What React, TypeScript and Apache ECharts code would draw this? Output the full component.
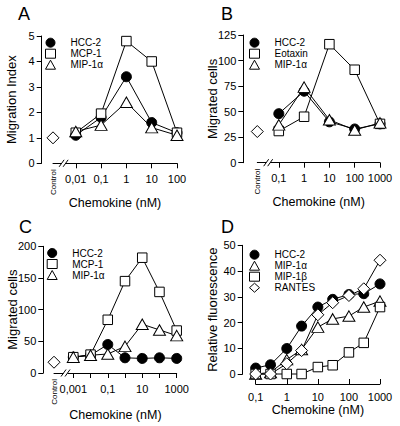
import React, { useEffect, useRef } from 'react';
import * as echarts from 'echarts';

const FONT = '"Liberation Sans", Arial, Helvetica, sans-serif';

// ---------- Panel A ----------
const A_CONC = [0.01, 0.1, 1, 10, 100];
const A_TICKS = [0.01, 0.1, 1, 10, 100];
const A_LABEL_CONC = [0.01, 0.1, 1, 10, 100];
const A_LABELS = ['0,01', '0,1', '1', '10', '100'];
const A_HCC2 = [1.1, 1.8, 3.4, 1.6, 1.2];
const A_MCP1 = [1.2, 1.95, 4.8, 4.0, 1.2];
const A_MIP1A = [1.25, 1.5, 2.4, 1.4, 1.1];
const A_CONTROL = 1.0;

// ---------- Panel B ----------
const B_CONC = [0.1, 1, 10, 100, 1000];
const B_TICKS = [0.1, 1, 10, 100, 1000];
const B_LABEL_CONC = [0.1, 1, 10, 100, 1000];
const B_LABELS = ['0,1', '1', '10', '100', '1000'];
const B_HCC2 = [48, 70, 40, 33, 38];
const B_EOTAXIN = [31, 45, 116, 91, 38];
const B_MIP1A = [37, 74, 42, 32, 39];
const B_CONTROL = 30.5;

// ---------- Panel C ----------
const C_CONC = [0.001, 0.01, 0.1, 1, 10, 100, 1000];
const C_TICKS = [0.001, 0.01, 0.1, 1, 10, 100, 1000];
const C_LABEL_CONC = [0.001, 0.1, 10, 1000];
const C_LABELS = ['0,001', '0,1', '10', '1000'];
const C_HCC2 = [25, 28, 45, 24, 23, 24, 23];
const C_MCP1 = [25, 29, 84, 145, 182, 128, 67];
const C_MIP1A = [25, 28, 30, 42, 77, 68, 59];
const C_CONTROL = 17;

// ---------- Panel D ----------
const D_CONC = [0.1, 0.3, 1, 3, 10, 30, 100, 300, 1000];
const D_TICKS = [0.1, 1, 10, 100, 1000];
const D_LABEL_CONC = [0.1, 1, 10, 100, 1000];
const D_LABELS = ['0,1', '1', '10', '100', '1000'];
const D_HCC2 = [2.3, 3.6, 9.9, 18.6, 26, 29, 30.9, 31.2, 35];
const D_MIP1A = [0, 0.6, 5.6, 9.5, 18.2, 21.4, 22.5, 26, 28.3];
const D_MIP1B = [0, 0, 0, 0, 2.7, 3.4, 8.4, 12.1, 26];
const D_RANTES = [0, 0, 4, 9.1, 23, 27.7, 30.5, 33.1, 44.2];

type Kind = 'circle' | 'square' | 'triangle' | 'diamond';
type SDef = { name: string; values: number[]; kind: Kind };

const KIND_STYLE: Record<Kind, any> = {
  circle: { symbol: 'circle', symbolSize: 10, fill: '#000' },
  square: { symbol: 'rect', symbolSize: 9.5, fill: '#fff' },
  triangle: { symbol: 'triangle', symbolSize: [12, 10.5], fill: '#fff' },
  diamond: { symbol: 'diamond', symbolSize: [12, 12], fill: '#fff' },
};

const PANELS = [
  {
    letter: 'A', letterPos: [18, 5],
    grid: { left: 53, right: 223, top: 36, bottom: 262.7 },
    conc: A_CONC, ticks: A_TICKS, labelConc: A_LABEL_CONC, labels: A_LABELS,
    xMin: -2.9, xMax: 2, controlX: -2.9 as number | null, control: A_CONTROL as number | null, breakAt: -2.48 as number | null,
    yName: 'Migration Index', yMax: 5, yInterval: 1, yOffset: 11.3,
    xAxisBottom: null as number | null, tickInside: false, xNameGap: 33, xLabelMargin: 10,
    legend: [45, 37.7],
    series: [
      { name: 'HCC-2', values: A_HCC2, kind: 'circle' },
      { name: 'MCP-1', values: A_MCP1, kind: 'square' },
      { name: 'MIP-1α', values: A_MIP1A, kind: 'triangle' },
    ] as SDef[],
  },
  {
    letter: 'B', letterPos: [221, 5],
    grid: { left: 257.3, right: 20, top: 35, bottom: 263.3 },
    conc: B_CONC, ticks: B_TICKS, labelConc: B_LABEL_CONC, labels: B_LABELS,
    xMin: -1.85, xMax: 3, controlX: -1.85, control: B_CONTROL, breakAt: -1.42,
    yName: 'Migrated cells', yMax: 125, yInterval: 25, yOffset: 14,
    xAxisBottom: null, tickInside: false, xNameGap: 33, xLabelMargin: 10,
    legend: [249, 37.7],
    series: [
      { name: 'HCC-2', values: B_HCC2, kind: 'circle' },
      { name: 'Eotaxin', values: B_EOTAXIN, kind: 'square' },
      { name: 'MIP-1α', values: B_MIP1A, kind: 'triangle' },
    ] as SDef[],
  },
  {
    letter: 'C', letterPos: [19, 218],
    grid: { left: 54, right: 223.3, top: 246.3, bottom: 53 },
    conc: C_CONC, ticks: C_TICKS, labelConc: C_LABEL_CONC, labels: C_LABELS,
    xMin: -4.12, xMax: 3, controlX: -4.12, control: C_CONTROL, breakAt: -3.45,
    yName: 'Migrated cells', yMax: 200, yInterval: 50, yOffset: 10.7,
    xAxisBottom: null, tickInside: false, xNameGap: 35, xLabelMargin: 10,
    legend: [46.7, 248],
    series: [
      { name: 'HCC-2', values: C_HCC2, kind: 'circle' },
      { name: 'MCP-1', values: C_MCP1, kind: 'square' },
      { name: 'MIP-1α', values: C_MIP1A, kind: 'triangle' },
    ] as SDef[],
  },
  {
    letter: 'D', letterPos: [221, 218],
    grid: { left: 255.7, right: 20, top: 245.3, bottom: 52 },
    conc: D_CONC, ticks: D_TICKS, labelConc: D_LABEL_CONC, labels: D_LABELS,
    xMin: -1, xMax: 3, controlX: null, control: null, breakAt: null,
    yName: 'Relative fluorescence', yMax: 50, yInterval: 10, yOffset: 13,
    xAxisBottom: 42, tickInside: true, xNameGap: 19, xLabelMargin: 7,
    legend: [249, 249.7],
    series: [
      { name: 'HCC-2', values: D_HCC2, kind: 'circle' },
      { name: 'MIP-1α', values: D_MIP1A, kind: 'triangle' },
      { name: 'MIP-1β', values: D_MIP1B, kind: 'square' },
      { name: 'RANTES', values: D_RANTES, kind: 'diamond' },
    ] as SDef[],
  },
];

function itemStyleOf(kind: Kind) {
  return { color: KIND_STYLE[kind].fill, borderColor: '#000', borderWidth: 1, opacity: 1 };
}

function buildOption() {
  const title: any[] = [];
  const grid: any[] = [];
  const xAxis: any[] = [];
  const yAxis: any[] = [];
  const legend: any[] = [];
  const series: any[] = [];
  const extraGrids: any[] = [];
  const extraY: any[] = [];

  PANELS.forEach((p, i) => {
    title.push({
      text: p.letter, left: p.letterPos[0], top: p.letterPos[1], padding: 0,
      textStyle: { fontSize: 18, fontWeight: 'normal', color: '#000', fontFamily: FONT },
    });
    grid.push({ ...p.grid });
    const labelVals = p.labelConc.map((c) => Math.log10(c));
    const visibleX = {
      type: 'value', min: p.xMin, max: p.xMax, position: 'bottom',
      name: 'Chemokine (nM)', nameLocation: 'middle', nameGap: p.xNameGap, nameMoveOverlap: false,
      nameTextStyle: { fontSize: 12.5, color: '#000', fontFamily: FONT },
      axisLine: { show: true, onZero: false, lineStyle: { color: '#000', width: 1 } },
      axisTick: {
        show: true, inside: p.tickInside, length: 5,
        customValues: p.ticks.map((c) => Math.log10(c)), lineStyle: { color: '#000', width: 1 },
      },
      axisLabel: {
        customValues: labelVals, margin: p.xLabelMargin, fontSize: 11, color: '#000', fontFamily: FONT,
        formatter: (v: number) => {
          const k = labelVals.findIndex((lv) => Math.abs(lv - v) < 1e-6);
          return k >= 0 ? p.labels[k] : '';
        },
      },
      splitLine: { show: false },
    };
    if (p.xAxisBottom == null) {
      xAxis[2 * i] = { ...visibleX, gridIndex: i };
      xAxis[2 * i + 1] = {
        gridIndex: i, type: 'value', min: p.xMin, max: p.xMax, position: 'bottom',
        axisLine: { show: false, onZero: false }, axisTick: { show: false }, splitLine: { show: false },
        axisLabel: {
          show: true, customValues: [p.controlX], showMinLabel: true,
          formatter: () => 'Control', rotate: 90, fontSize: 8, margin: 6, color: '#000', fontFamily: FONT,
        },
      };
    } else {
      // data axis (hidden) in the panel grid; visible axis in a thin grid placed lower
      const gi = PANELS.length + extraGrids.length;
      extraGrids.push({ left: p.grid.left, right: p.grid.right, bottom: p.xAxisBottom, height: 10 });
      extraY.push({ gridIndex: gi, type: 'value', min: 0, max: 1, show: false });
      xAxis[2 * i] = {
        gridIndex: i, type: 'value', min: p.xMin, max: p.xMax, show: false,
        axisLine: { onZero: false }, splitLine: { show: false },
      };
      xAxis[2 * i + 1] = { ...visibleX, gridIndex: gi };
    }
    yAxis.push({
      gridIndex: i, type: 'value', min: 0, max: p.yMax, interval: p.yInterval, offset: p.yOffset,
      name: p.yName, nameLocation: 'middle', nameGap: 24, nameMoveOverlap: false,
      nameTextStyle: { fontSize: 13, color: '#000', fontFamily: FONT },
      axisLine: { show: true, onZero: false, lineStyle: { color: '#000', width: 1 } },
      axisTick: { show: true, length: 5, lineStyle: { color: '#000', width: 1 } },
      axisLabel: { fontSize: 11, margin: 7, color: '#000', fontFamily: FONT },
      splitLine: { show: false },
    });
    legend.push({
      orient: 'vertical', left: p.legend[0], top: p.legend[1], padding: 0, itemGap: 1,
      itemWidth: 10, itemHeight: 9, selectedMode: false,
      textStyle: { fontSize: 10, color: '#000', fontFamily: FONT, lineHeight: 10, padding: [0, 0, 0, 10] },
      data: p.series.map((s) => ({ name: s.name, icon: KIND_STYLE[s.kind].symbol, itemStyle: itemStyleOf(s.kind) })),
    });
    p.series.forEach((s) => {
      const st = KIND_STYLE[s.kind];
      series.push({
        type: 'line', name: s.name, xAxisIndex: 2 * i, yAxisIndex: i,
        data: p.conc.map((c, k) => [Math.log10(c), s.values[k]]),
        symbol: st.symbol, symbolSize: st.symbolSize, showSymbol: true, showAllSymbol: true,
        itemStyle: itemStyleOf(s.kind), lineStyle: { color: '#000', width: 1 },
        clip: false, silent: true, emphasis: { disabled: true },
      });
    });
    if (p.control != null && p.controlX != null) {
      series.push({
        type: 'scatter', name: 'Control', xAxisIndex: 2 * i, yAxisIndex: i,
        data: [[p.controlX, p.control]], symbol: 'diamond', symbolSize: [12, 12],
        itemStyle: itemStyleOf('diamond'), clip: false, silent: true, emphasis: { disabled: true },
      });
    }
  });

  return {
    animation: false,
    backgroundColor: '#fff',
    textStyle: { fontFamily: FONT },
    title,
    grid: [...grid, ...extraGrids],
    xAxis,
    yAxis: [...yAxis, ...extraY],
    legend,
    series,
  };
}

export default function App() {
  const ref = useRef<HTMLDivElement>(null);
  useEffect(() => {
    const chart = echarts.init(ref.current!, null, { renderer: 'svg' });
    chart.setOption(buildOption());
    const graphics: any[] = [];
    PANELS.forEach((p, i) => {
      if (p.breakAt == null) return;
      const pt = chart.convertToPixel({ xAxisIndex: 2 * i, yAxisIndex: i } as any, [p.breakAt, 0]) as number[];
      const [px, py] = pt;
      graphics.push(
        { type: 'rect', silent: true, z: 100, shape: { x: px - 2, y: py - 2, width: 4, height: 4 }, style: { fill: '#fff' } },
        { type: 'line', silent: true, z: 101, shape: { x1: px - 4.5, y1: py + 3.5, x2: px + 0.5, y2: py - 3.5 }, style: { stroke: '#000', lineWidth: 1 } },
        { type: 'line', silent: true, z: 101, shape: { x1: px - 0.5, y1: py + 3.5, x2: px + 4.5, y2: py - 3.5 }, style: { stroke: '#000', lineWidth: 1 } },
      );
    });
    chart.setOption({ graphic: graphics });
    return () => chart.dispose();
  }, []);
  return (
    <div
      ref={ref}
      style={{ position: 'fixed', left: 0, top: 0, width: 400, height: 426, background: '#fff' }}
    />
  );
}
